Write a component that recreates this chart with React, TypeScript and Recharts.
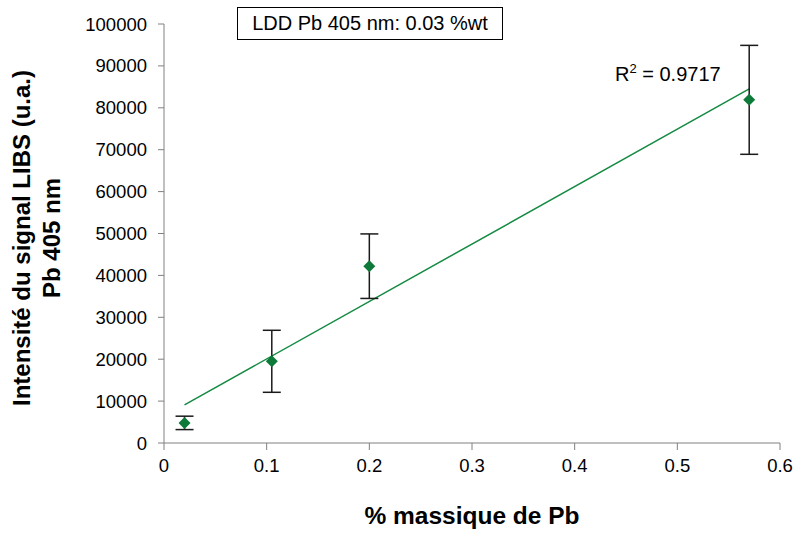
import {
  ComposedChart,
  Scatter,
  ErrorBar,
  XAxis,
  YAxis,
  ReferenceLine,
} from 'recharts';

// % massique de Pb vs. intensité LIBS
const massPct = [0.02, 0.105, 0.2, 0.57];
const intensity = [4800, 19500, 42200, 81900];
const intensityErr = [1600, 7400, 7700, 13000];

// linear fit endpoints
const fitX = [0.02, 0.57];
const fitY = [9100, 84500];

const xTicks = [0, 0.1, 0.2, 0.3, 0.4, 0.5, 0.6];
const yTicks = [0, 10000, 20000, 30000, 40000, 50000, 60000, 70000, 80000, 90000, 100000];

const points = massPct.map((x, i) => ({ x, y: intensity[i], err: intensityErr[i] }));

const FONT = '"Liberation Sans", Arial, sans-serif';
const GREEN = '#0e7a3a';
const AXIS = '#808080';

const Diamond = (props: any) => {
  const { cx, cy } = props;
  const r = 6;
  return (
    <polygon
      points={`${cx},${cy - r} ${cx + r},${cy} ${cx},${cy + r} ${cx - r},${cy}`}
      fill={GREEN}
    />
  );
};

export default function App() {
  return (
    <div style={{ position: 'absolute', left: 0, top: 0, width: 798, height: 533, background: '#fff', fontFamily: FONT }}>
      <ComposedChart
        width={798}
        height={533}
        margin={{ top: 24, right: 18, bottom: 0, left: 0 }}
      >
        <XAxis
          type="number"
          dataKey="x"
          domain={[0, 0.6]}
          ticks={xTicks}
          tickFormatter={(v: number) => String(v)}
          height={90}
          stroke={AXIS}
          tickSize={7}
          tickMargin={9}
          tick={{ fill: '#000', fontSize: 18.5, fontFamily: FONT }}
        />
        <YAxis
          type="number"
          dataKey="y"
          domain={[0, 100000]}
          ticks={yTicks}
          width={164}
          stroke={AXIS}
          tickSize={6}
          tickMargin={11}
          tick={{ fill: '#000', fontSize: 18.5, fontFamily: FONT }}
        />
        <ReferenceLine
          segment={[
            { x: fitX[0], y: fitY[0] },
            { x: fitX[1], y: fitY[1] },
          ]}
          stroke="#148a42"
          strokeWidth={1.5}
        />
        <Scatter data={points} shape={Diamond} isAnimationActive={false}>
          <ErrorBar dataKey="err" direction="y" width={9} stroke="#1a1a1a" strokeWidth={1.5} />
        </Scatter>
      </ComposedChart>

      <div
        style={{
          position: 'absolute',
          left: 237,
          top: 7,
          width: 266,
          height: 33,
          border: '1.5px solid #000',
          boxSizing: 'border-box',
          fontSize: 20,
          lineHeight: '30px',
          textAlign: 'center',
        }}
      >
        LDD Pb 405 nm: 0.03 %wt
      </div>

      <div style={{ position: 'absolute', left: 615, top: 61, fontSize: 20 }}>
        R<sup style={{ fontSize: 13 }}>2</sup> = 0.9717
      </div>

      <div
        style={{
          position: 'absolute',
          left: 0,
          top: 502,
          width: 944,
          textAlign: 'center',
          fontSize: 24.5,
          fontWeight: 'bold',
        }}
      >
        % massique de Pb
      </div>

      <div
        style={{
          position: 'absolute',
          left: 37,
          top: 238,
          width: 460,
          transform: 'translate(-50%, -50%) rotate(-90deg)',
          textAlign: 'center',
          fontSize: 24,
          fontWeight: 'bold',
          lineHeight: '30px',
        }}
      >
        Intensité du signal LIBS (u.a.)
        <br />
        Pb 405 nm
      </div>
    </div>
  );
}
